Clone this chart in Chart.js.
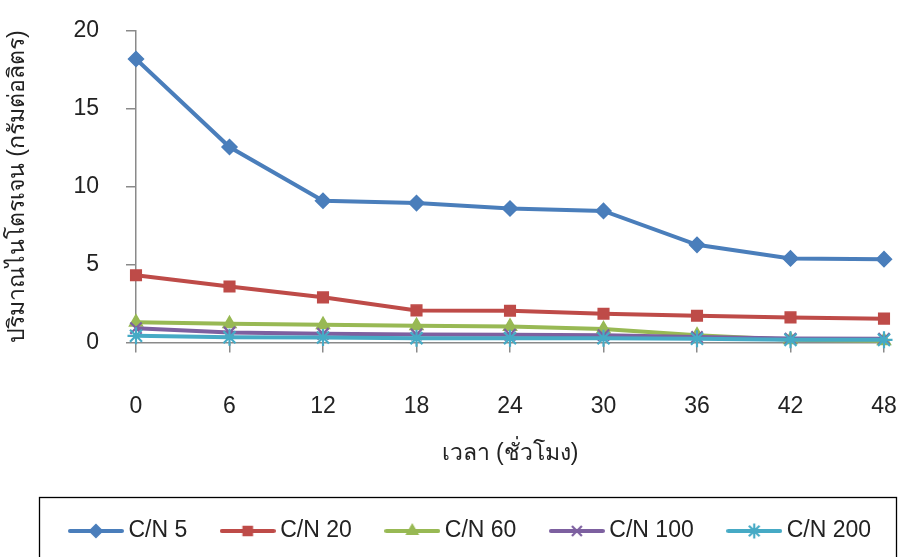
<!DOCTYPE html>
<html>
<head>
<meta charset="utf-8">
<script src="https://cdn.jsdelivr.net/npm/chart.js@4/dist/chart.umd.min.js"></script>
<style>
  html, body { margin: 0; padding: 0; background: #ffffff; }
  #wrap { width: 900px; height: 557px; position: relative; }
</style>
</head>
<body>
<div id="wrap"><canvas id="chart"></canvas></div>
<script>
// Sampling times (hours)
const hours = ['0', '6', '12', '18', '24', '30', '36', '42', '48'];

// Nitrogen concentration (g/L) for each C/N ratio
const cn5   = [18.2, 12.55, 9.1, 8.95, 8.6, 8.45, 6.27, 5.4, 5.35];
const cn20  = [4.32, 3.6, 2.9, 2.06, 2.04, 1.85, 1.72, 1.61, 1.53];
const cn60  = [1.3, 1.2, 1.14, 1.08, 1.03, 0.86, 0.47, 0.17, 0.12];
const cn100 = [0.92, 0.64, 0.56, 0.52, 0.5, 0.47, 0.35, 0.25, 0.24];
const cn200 = [0.43, 0.34, 0.32, 0.28, 0.28, 0.27, 0.24, 0.17, 0.17];

const seriesNames = ['C/N 5', 'C/N 20', 'C/N 60', 'C/N 100', 'C/N 200'];
const yTitle = 'ปริมาณไนโตรเจน (กรัมต่อลิตร)';
const xTitle = 'เวลา (ชั่วโมง)';

const FONT = "'Liberation Sans', Arial, 'DejaVu Sans', sans-serif";
const AXIS_GRAY = '#8a8a8a';
const TEXT = '#222222';

const styles = [
  { color: '#4A7EBB', point: 'rectRot',  radius: 7.5, pbw: 1.5 },
  { color: '#BE4B48', point: 'rect',     radius: 7.5, pbw: 1.5 },
  { color: '#98B954', point: 'triangle', radius: 7.5, pbw: 1.5 },
  { color: '#7D60A0', point: 'crossRot', radius: 8,   pbw: 2.2 },
  { color: '#46AAC5', point: 'star',     radius: 8.5, pbw: 2.2 }
];

// Small line-with-marker swatch used as the legend symbol
function makeSwatch(st) {
  const c = document.createElement('canvas');
  c.width = 56; c.height = 18;
  const g = c.getContext('2d');
  g.strokeStyle = st.color;
  g.fillStyle = st.color;
  g.lineWidth = 4;
  g.lineCap = 'round';
  g.beginPath();
  g.moveTo(2, 9); g.lineTo(54, 9);
  g.stroke();
  g.lineWidth = st.pbw;
  g.lineCap = 'butt';
  if (Chart.helpers && Chart.helpers.drawPoint) {
    Chart.helpers.drawPoint(g, { pointStyle: st.point, radius: st.radius - 1, rotation: 0, borderWidth: st.pbw }, 28, 9);
  }
  return c;
}
const swatches = styles.map(makeSwatch);

const datasets = [cn5, cn20, cn60, cn100, cn200].map((vals, i) => ({
  label: seriesNames[i],
  data: vals,
  borderColor: styles[i].color,
  backgroundColor: styles[i].color,
  pointBackgroundColor: styles[i].color,
  pointBorderColor: styles[i].color,
  pointStyle: styles[i].point,
  pointRadius: styles[i].radius,
  pointBorderWidth: styles[i].pbw,
  borderWidth: 4,
  tension: 0,
  clip: false,
  order: seriesNames.length - i
}));

// Frame around the legend, and placement of the legend row
const legendFrame = {
  id: 'legendFrame',
  afterLayout(chart) {
    const lg = chart.legend;
    if (!lg) return;
    const dx = 473 - (lg.left + lg.right) / 2;
    const dy = 480 - lg.top;
    lg.left += dx; lg.right += dx;
    lg.top += dy; lg.bottom += dy;
    if (lg.legendHitBoxes) lg.legendHitBoxes.forEach(h => { h.left += dx; h.top += dy; });
  },
  afterDraw(chart) {
    const ctx = chart.ctx;
    ctx.save();
    ctx.strokeStyle = '#000000';
    ctx.lineWidth = 1.3;
    ctx.strokeRect(39.5, 497.5, 857, 80);
    ctx.restore();
  }
};

new Chart(document.getElementById('chart'), {
  type: 'line',
  data: { labels: hours, datasets },
  plugins: [legendFrame],
  options: {
    responsive: true,
    maintainAspectRatio: false,
    animation: false,
    layout: { padding: { left: 0, right: 16, top: 31, bottom: 0 } },
    plugins: {
      tooltip: { enabled: false },
      legend: {
        position: 'bottom',
        align: 'center',
        labels: {
          usePointStyle: true,
          pointStyleWidth: 42,
          padding: 39.5,
          color: TEXT,
          font: { family: FONT, size: 23 },
          sort: (a, b) => a.datasetIndex - b.datasetIndex,
          generateLabels(chart) {
            const items = Chart.defaults.plugins.legend.labels.generateLabels(chart);
            items.forEach(it => { it.pointStyle = swatches[it.datasetIndex]; });
            return items;
          }
        }
      }
    },
    scales: {
      x: {
        type: 'category',
        offset: false,
        afterFit(scale) {
          scale.height = 142;
          scale.paddingLeft = 0;
          scale.paddingRight = 0;
        },
        grid: { drawOnChartArea: false, drawTicks: true, tickLength: 10, color: AXIS_GRAY, lineWidth: 1.5 },
        border: { display: true, color: AXIS_GRAY, width: 1.5 },
        ticks: { padding: 40, color: TEXT, font: { family: FONT, size: 23 }, maxRotation: 0 },
        title: {
          display: true, text: xTitle, color: TEXT,
          font: { family: FONT, size: 23 },
          padding: { top: 0, bottom: 17 }
        }
      },
      y: {
        min: 0, max: 20,
        afterFit(scale) {
          scale.width = 136;
          scale.paddingTop = 0;
          scale.paddingBottom = 0;
        },
        grid: { drawOnChartArea: false, drawTicks: true, tickLength: 10, color: AXIS_GRAY, lineWidth: 1.5 },
        border: { display: true, color: AXIS_GRAY, width: 1.5 },
        ticks: { stepSize: 5, padding: 27, color: TEXT, font: { family: FONT, size: 23 } },
        title: {
          display: true, text: yTitle, color: TEXT,
          font: { family: FONT, size: 23 },
          padding: { top: 4, bottom: 0 }
        }
      }
    }
  }
});
</script>
</body>
</html>
